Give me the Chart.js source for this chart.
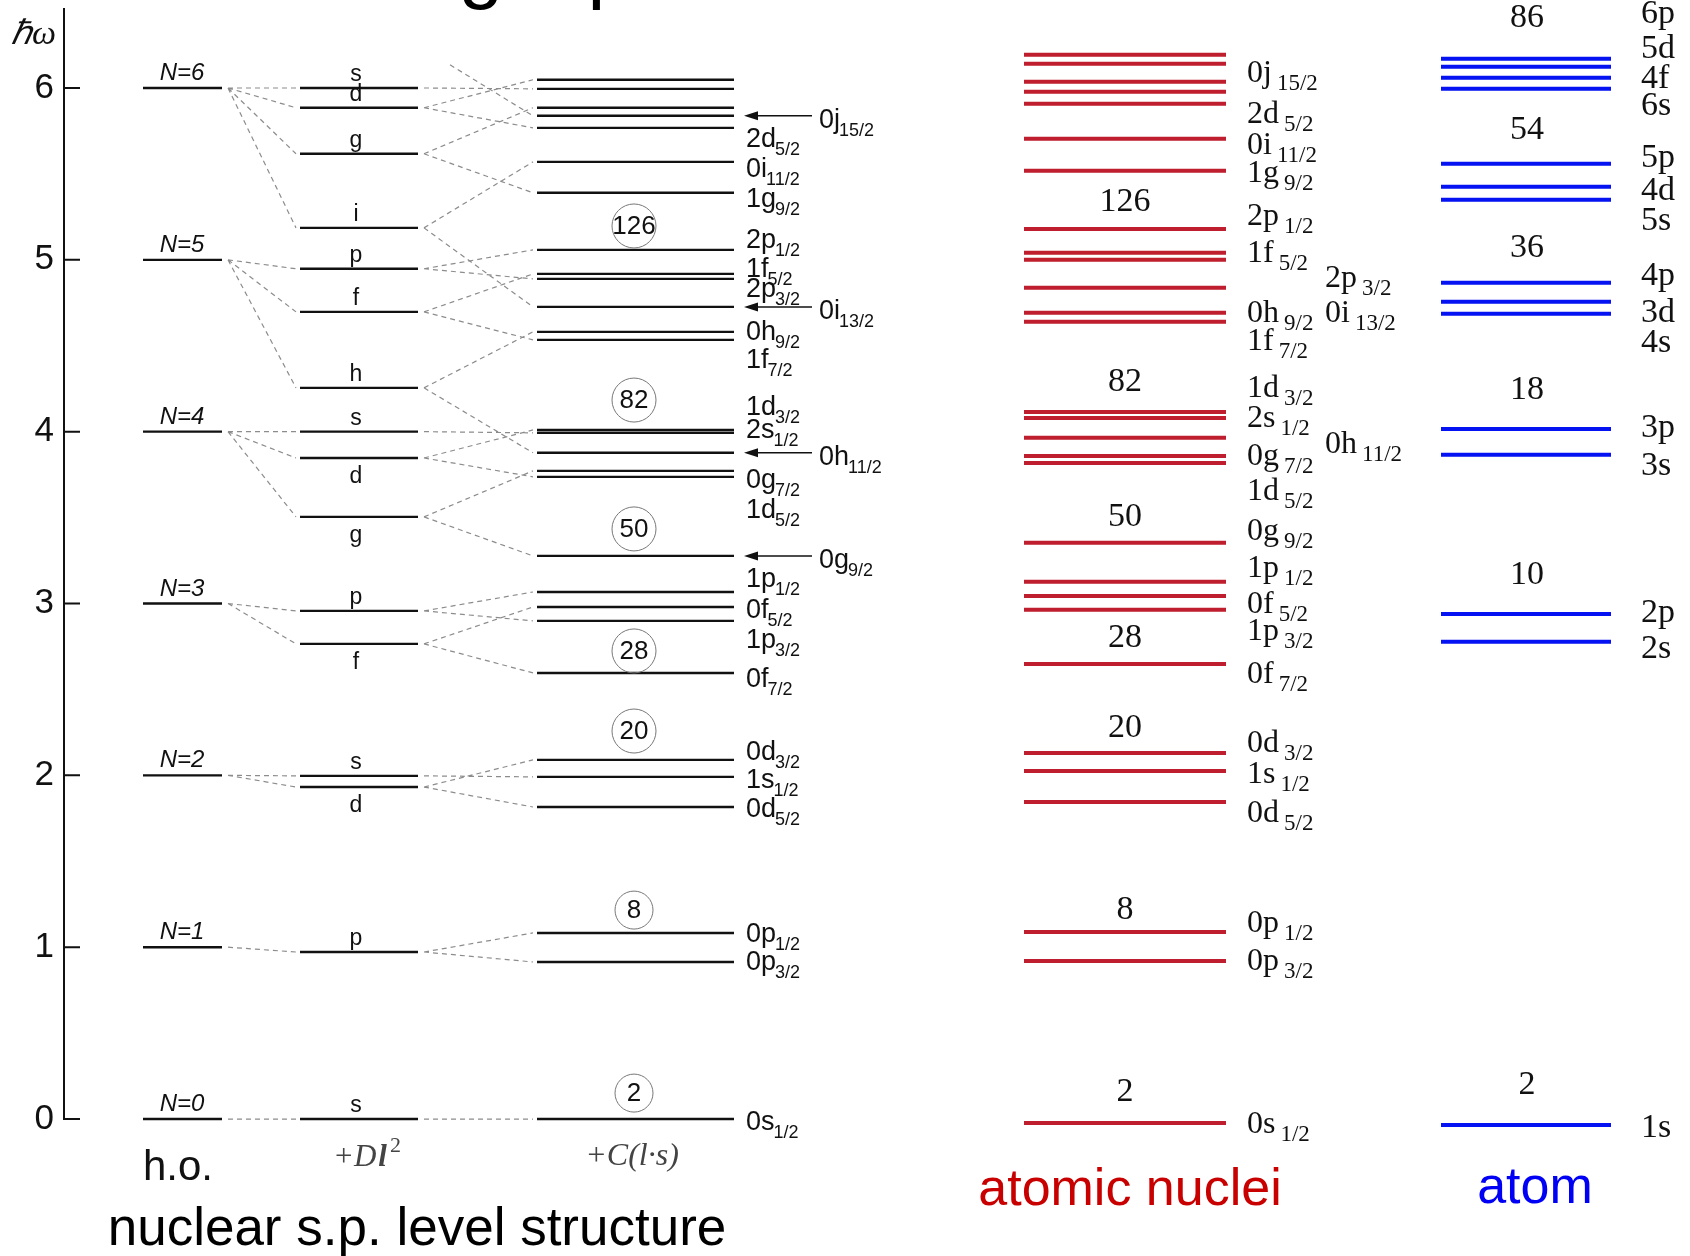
<!DOCTYPE html>
<html>
<head>
<meta charset="utf-8">
<script src="https://cdn.jsdelivr.net/npm/chart.js@4.4.1/dist/chart.umd.min.js"></script>
<style>
  html, body { margin: 0; padding: 0; background: #fff; }
  #wrap { width: 1690px; height: 1256px; }
</style>
</head>
<body>
<div id="wrap"><canvas id="levels" width="1690" height="1256"></canvas></div>
<script>
// ── data (energies in units of ħω, bottom to top) ─────────────────────
var hoN = [0, 1, 2, 3, 4, 5, 6];

// +Dl^2 splitting
var dlE    = [0.000, 0.972, 1.932, 1.997, 2.765, 2.957, 3.504, 3.847, 4.000, 4.255, 4.697, 4.948, 5.186, 5.617, 5.885, 6.000];
var dlL    = ['s', 'p', 'd', 's', 'f', 'p', 'g', 'd', 's', 'h', 'f', 'p', 'i', 'g', 'd', 's'];
var dlFrom = [0, 1, 2, 2, 3, 3, 4, 4, 4, 5, 5, 5, 6, 6, 6, 6];
var dlBelow = [0, 0, 1, 0, 1, 0, 1, 1, 0, 0, 0, 0, 0, 0, 0, 0];

// +C(l.s) splitting
var lsE    = [0.000, 0.914, 1.083, 1.816, 1.991, 2.090, 2.596, 2.899, 2.980, 3.067, 3.277, 3.737, 3.772, 3.877, 3.993,
              4.010, 4.534, 4.581, 4.726, 4.889, 4.918, 5.058, 5.390, 5.570, 5.768, 5.838, 5.885, 5.995, 6.048];
var lsFrom = [0, 1, 1, 2, 3, 2, 4, 5, 4, 5, 6, 7, 6, 9, 8, 7, 10, 9, 12, 11, 10, 11, 13, 12, 14, -1, 13, 15, 14];
var lsTag  = ['0s1/2', '0p3/2', '0p1/2', '0d5/2', '1s1/2', '0d3/2', '0f7/2', '1p3/2', '0f5/2', '1p1/2', '1d5/2',
              '0g7/2', '2s1/2', '1d3/2', '1f7/2', '0h9/2', '2p3/2', '1f5/2', '2p1/2', '1g9/2', '0i11/2', '2d5/2'];
var lsTagE = [-0.064, 0.867, 1.030, 1.758, 1.926, 2.089, 2.514, 2.741, 2.916, 3.096, 3.498,
              3.672, 3.963, 4.097, 4.371, 4.534, 4.784, 4.900, 5.069, 5.308, 5.482, 5.657];
var intruderTag = ['0g9/2', '0h11/2', '0i13/2', '0j15/2'];
var intruderE   = [3.277, 3.877, 4.726, 5.838];
var intruderEntryE = 6.135;
var magicLs  = ['2', '8', '20', '28', '50', '82', '126'];
var magicLsE = [0.151, 1.216, 2.258, 2.724, 3.434, 4.184, 5.197];

// atomic nuclei
var nucE = [-0.023, 0.920, 1.088, 1.845, 2.026, 2.130, 2.648, 2.963, 3.044, 3.126, 3.353, 3.818, 3.859, 3.964, 4.080,
            4.115, 4.639, 4.692, 4.837, 5.000, 5.041, 5.180, 5.518, 5.704, 5.908, 5.978, 6.036, 6.141, 6.193];
var nucTag  = ['0s1/2', '0p3/2', '0p1/2', '0d5/2', '1s1/2', '0d3/2', '0f7/2', '1p3/2', '0f5/2', '1p1/2', '0g9/2', '1d5/2',
               '0g7/2', '2s1/2', '1d3/2', '1f7/2', '0h9/2', '1f5/2', '2p1/2', '1g9/2', '0i11/2', '2d5/2', '0j15/2'];
var nucTagE = [-0.081, 0.867, 1.088, 1.728, 1.955, 2.136, 2.538, 2.788, 2.945, 3.154, 3.369, 3.602,
               3.806, 4.027, 4.202, 4.475, 4.638, 4.987, 5.203, 5.453, 5.616, 5.796, 6.035];
var nucTag2  = ['0h11/2', '0i13/2', '2p3/2'];
var nucTag2E = [3.876, 4.638, 4.842];
var magicNuc  = ['2', '8', '20', '28', '50', '82', '126'];
var magicNucE = [0.157, 1.216, 2.276, 2.799, 3.503, 4.289, 5.337];

// atom
var atomE = [-0.035, 2.777, 2.939, 3.865, 4.016, 4.686, 4.756, 4.866, 5.349, 5.425, 5.559, 5.995, 6.059, 6.123, 6.170];
var atomTag  = ['1s', '2s', '2p', '3s', '3p', '4s', '3d', '4p', '5s', '4d', '5p', '6s', '4f', '5d', '6p'];
var atomTagE = [-0.105, 2.683, 2.892, 3.748, 3.969, 4.464, 4.638, 4.853, 5.174, 5.349, 5.541, 5.843, 6.000, 6.175, 6.378];
var magicAtom  = ['2', '10', '18', '36', '54', '86'];
var magicAtomE = [0.198, 3.166, 4.243, 5.069, 5.756, 6.408];

// ── layout (x in canvas pixels) ────────────────────────────────────────
var COL = {
  ho:   [143, 222],
  dl:   [300, 418],
  ls:   [537, 734],
  nuc:  [1024, 1226],
  atom: [1441, 1611]
};
var AXIS_TOP = 6.466;
var SANS = '"Liberation Sans", Arial, sans-serif';
var SERIF = '"Liberation Serif", "Times New Roman", serif';
var RED = '#be1e2d';
var BLUE = '#0512f2';

function rungs(energies, span) {
  var pts = [];
  energies.forEach(function (e) {
    pts.push({ x: span[0], y: e }, { x: span[1], y: e }, { x: span[1], y: null });
  });
  return pts;
}

function links(parentE, childE, parentIdx, xa, xb) {
  var pts = [];
  childE.forEach(function (e, i) {
    var p = parentIdx[i];
    if (p < 0) return;
    pts.push({ x: xa, y: parentE[p] }, { x: xb, y: e }, { x: xb, y: null });
  });
  return pts;
}

function levelSet(data, color, width) {
  return { data: data, borderColor: color, borderWidth: width, pointRadius: 0, spanGaps: false, borderCapStyle: 'butt' };
}

var dashed = { borderColor: '#8c8c8c', borderWidth: 1.2, borderDash: [5, 4], pointRadius: 0, spanGaps: false };

var datasets = [
  Object.assign({ data: links(hoN, dlE, dlFrom, 228, 296) }, dashed),
  Object.assign({ data: links(dlE, lsE, lsFrom, 424, 533) }, dashed),
  Object.assign({ data: [{ x: 450, y: intruderEntryE }, { x: 533, y: intruderE[3] }] }, dashed),
  levelSet(rungs(hoN, COL.ho), '#111', 2.4),
  levelSet(rungs(dlE, COL.dl), '#111', 2.4),
  levelSet(rungs(lsE, COL.ls), '#111', 2.4),
  levelSet(rungs(nucE, COL.nuc), RED, 4),
  levelSet(rungs(atomE, COL.atom), BLUE, 4)
];

function tag(ctx, x, y, text, mainFont, subFont, dy, gap) {
  var main = text.slice(0, 2), sub = text.slice(2);
  ctx.font = mainFont;
  ctx.fillText(main, x, y);
  if (sub) {
    var w = ctx.measureText(main).width;
    ctx.font = subFont;
    ctx.fillText(sub, x + w + gap, y + dy);
  }
}

var annotate = {
  id: 'annotate',
  afterDatasetsDraw: function (chart) {
    var ctx = chart.ctx, xs = chart.scales.x, ys = chart.scales.y, area = chart.chartArea;
    var X = function (v) { return xs.getPixelForValue(v); };
    var Y = function (v) { return ys.getPixelForValue(v); };
    ctx.save();

    // title, cut off by the top edge as in the original slide
    ctx.fillStyle = '#000';
    ctx.font = '80px ' + SANS;
    ctx.textAlign = 'left';
    ctx.textBaseline = 'alphabetic';
    ctx.fillText('Single particle', 343, -7);

    // energy axis with inward ticks
    ctx.strokeStyle = '#111';
    ctx.lineWidth = 2;
    ctx.beginPath();
    ctx.moveTo(area.left, Y(AXIS_TOP));
    ctx.lineTo(area.left, Y(0));
    hoN.forEach(function (v) {
      ctx.moveTo(area.left - 1, Y(v));
      ctx.lineTo(area.left + 16, Y(v));
    });
    ctx.stroke();
    ctx.fillStyle = '#111';
    ctx.font = 'italic 34px ' + SERIF;
    ctx.fillText('\u210F\u03C9', 11, 44);

    // h.o. shells
    ctx.font = 'italic 24px ' + SANS;
    ctx.textAlign = 'center';
    hoN.forEach(function (n) { ctx.fillText('N=' + n, X(182), Y(n) - 8); });

    // l letters
    ctx.font = '23px ' + SANS;
    dlE.forEach(function (e, i) {
      ctx.fillText(dlL[i], X(356), Y(e) + (dlBelow[i] ? 25 : -7));
    });

    // j labels
    ctx.textAlign = 'left';
    lsTag.forEach(function (t, i) {
      tag(ctx, X(746), Y(lsTagE[i]), t, '27px ' + SANS, '18px ' + SANS, 8, -1);
    });

    // intruder arrows
    ctx.lineWidth = 1.5;
    intruderTag.forEach(function (t, i) {
      var yy = Y(intruderE[i]);
      ctx.beginPath();
      ctx.moveTo(X(812), yy);
      ctx.lineTo(X(756), yy);
      ctx.stroke();
      ctx.beginPath();
      ctx.moveTo(X(744), yy);
      ctx.lineTo(X(758), yy - 4.5);
      ctx.lineTo(X(758), yy + 4.5);
      ctx.closePath();
      ctx.fill();
      tag(ctx, X(819), yy + 12, t, '27px ' + SANS, '18px ' + SANS, 8, -1);
    });

    // circled magic numbers
    ctx.textAlign = 'center';
    ctx.textBaseline = 'middle';
    ctx.strokeStyle = '#777';
    ctx.lineWidth = 1;
    magicLs.forEach(function (m, i) {
      var cx = X(634), cy = Y(magicLsE[i]);
      ctx.beginPath();
      ctx.arc(cx, cy, m.length > 1 ? 22 : 19, 0, Math.PI * 2);
      ctx.stroke();
      ctx.font = '26px ' + SANS;
      ctx.fillText(m, cx, cy + 1);
    });

    // nuclei
    ctx.font = '34px ' + SERIF;
    magicNuc.forEach(function (m, i) { ctx.fillText(m, X(1125), Y(magicNucE[i])); });
    ctx.textBaseline = 'alphabetic';
    ctx.textAlign = 'left';
    nucTag.forEach(function (t, i) {
      tag(ctx, X(1247), Y(nucTagE[i]), t, '32px ' + SERIF, '23px ' + SERIF, 8, 5);
    });
    nucTag2.forEach(function (t, i) {
      tag(ctx, X(1325), Y(nucTag2E[i]), t, '32px ' + SERIF, '23px ' + SERIF, 8, 5);
    });

    // atom
    ctx.textAlign = 'center';
    ctx.textBaseline = 'middle';
    ctx.font = '34px ' + SERIF;
    magicAtom.forEach(function (m, i) { ctx.fillText(m, X(1527), Y(magicAtomE[i])); });
    ctx.textAlign = 'left';
    ctx.textBaseline = 'alphabetic';
    atomTag.forEach(function (t, i) { ctx.fillText(t, X(1641), Y(atomTagE[i])); });

    // column captions
    ctx.textAlign = 'center';
    ctx.fillStyle = '#111';
    ctx.font = '42px ' + SANS;
    ctx.fillText('h.o.', 178, 1180);
    ctx.fillStyle = '#444';
    ctx.font = 'italic 31px ' + SERIF;
    ctx.textAlign = 'left';
    ctx.fillText('+D', 333, 1166);
    var wd = ctx.measureText('+D').width;
    ctx.font = 'bold italic 31px ' + SERIF;
    ctx.fillText('l', 333 + wd + 2, 1166);
    var wl = ctx.measureText('l').width;
    ctx.font = '22px ' + SERIF;
    ctx.fillText('2', 333 + wd + wl + 5, 1152);
    ctx.font = 'italic 32px ' + SERIF;
    ctx.textAlign = 'center';
    ctx.fillText('+C(l\u00B7s)', 632, 1165);

    ctx.fillStyle = '#000';
    ctx.font = '53px ' + SANS;
    ctx.fillText('nuclear s.p. level structure', 417, 1245);
    ctx.fillStyle = '#c80000';
    ctx.font = '52px ' + SANS;
    ctx.fillText('atomic nuclei', 1130, 1205);
    ctx.fillStyle = '#0000f5';
    ctx.fillText('atom', 1535, 1203);
    ctx.restore();
  }
};

new Chart(document.getElementById('levels'), {
  type: 'line',
  data: { datasets: datasets },
  options: {
    responsive: false,
    animation: false,
    layout: { padding: 0 },
    plugins: { legend: { display: false }, tooltip: { enabled: false } },
    elements: { line: { tension: 0 } },
    scales: {
      x: { type: 'linear', display: false, min: 64, max: 1690 },
      y: {
        type: 'linear',
        position: 'left',
        min: -0.797,
        max: 6.512,
        grid: { display: false },
        border: { display: false },
        ticks: { font: { family: SANS, size: 35 }, color: '#111', padding: 2 },
        afterBuildTicks: function (axis) {
          axis.ticks = hoN.map(function (v) { return { value: v }; });
        },
        afterFit: function (axis) {
          axis.width = 64;
          axis.paddingTop = 0;
          axis.paddingBottom = 0;
        }
      }
    }
  },
  plugins: [annotate]
});
</script>
</body>
</html>
